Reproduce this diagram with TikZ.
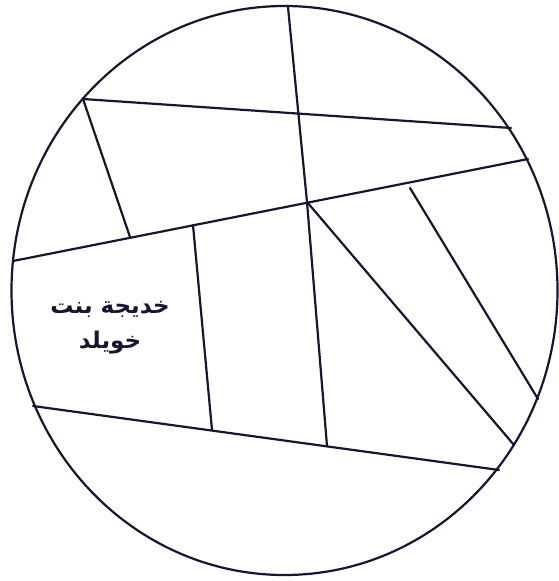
\documentclass[tikz,border=0pt]{standalone}
\usepackage{fontspec}
\newfontfamily\arabicfont[Script=Arabic]{DejaVu Sans Bold}
\TeXXeTstate=1
\definecolor{ink}{RGB}{22,22,48}
\begin{document}
\begin{tikzpicture}[x=1pt,y=-1pt,
  part/.style={draw=ink,line width=2.2pt,line cap=round},
  label/.style={text=ink,font=\arabicfont\fontsize{23}{35}\selectfont,align=center}]
\useasboundingbox (0,0) rectangle (558,581);
\draw[part] (284.5,290.5) ellipse [x radius=273, y radius=284.5];
\coordinate (A) at (83,99);
\coordinate (B) at (511,128);
\coordinate (T) at (288,7);
\coordinate (X) at (307,202);
\coordinate (C) at (130,237);
\coordinate (L1) at (13,261);
\coordinate (L2) at (528,159);
\coordinate (V1) at (193,225);
\coordinate (V2) at (212,430);
\coordinate (V3) at (327,446);
\coordinate (D) at (514,445);
\coordinate (S1) at (410,188);
\coordinate (S2) at (538,399);
\coordinate (BL) at (33,406);
\coordinate (BR) at (499,470);
\draw[part] (A) -- (B);
\draw[part] (A) -- (C);
\draw[part] (L1) -- (L2);
\draw[part] (T) -- (X) -- (V3);
\draw[part] (X) -- (D);
\draw[part] (S1) -- (S2);
\draw[part] (V1) -- (V2);
\draw[part] (BL) -- (BR);
\node[label] (name) at (110,328) {\beginR خديجة بنت\endR\\\beginR خويلد\endR};
\end{tikzpicture}
\end{document}
